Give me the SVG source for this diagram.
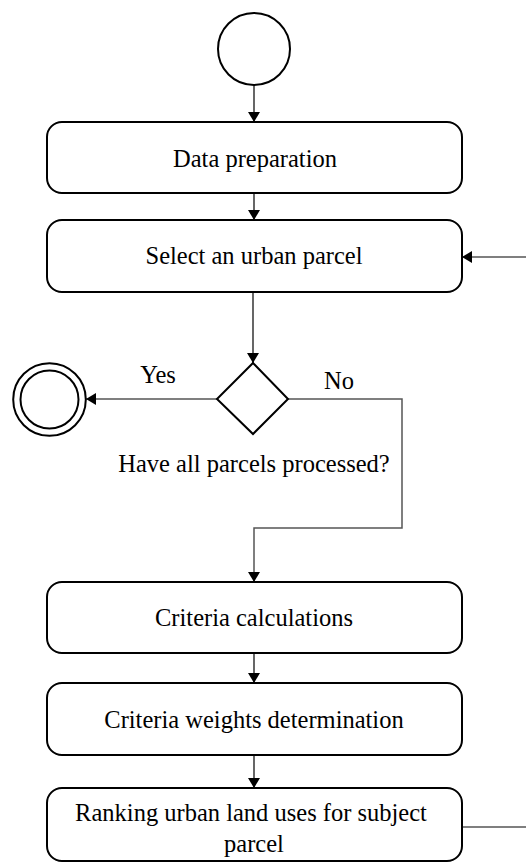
<svg xmlns="http://www.w3.org/2000/svg" width="526" height="863" viewBox="0 0 526 863">
<defs>
<marker id="ah" viewBox="0 0 10 12" refX="10" refY="6" markerWidth="10" markerHeight="12" markerUnits="userSpaceOnUse" orient="auto">
<path d="M0,0 L10,6 L0,12 Z" fill="#000"/>
</marker>
<style>
.box{fill:#fff;stroke:#000;stroke-width:2}
.t{font-family:"Liberation Serif","Times New Roman",serif;font-size:24.5px;fill:#000;text-anchor:middle}
.c{fill:none;stroke:#000;stroke-width:1.2}
.g{fill:none;stroke:#555;stroke-width:1.5}
</style>
</defs>
<rect width="526" height="863" fill="#fff"/>
<g id="connectors">
<line class="c" x1="254" y1="85" x2="254" y2="122" marker-end="url(#ah)"/>
<line class="c" x1="254" y1="193" x2="254" y2="220" marker-end="url(#ah)"/>
<line class="c" x1="253" y1="292" x2="253" y2="363" marker-end="url(#ah)"/>
<line class="c" x1="217" y1="399" x2="86" y2="399" marker-end="url(#ah)"/>
<polyline class="g" points="288,399 402,399 402,528 254,528 254,582" marker-end="url(#ah)"/>
<line class="c" x1="254" y1="653" x2="254" y2="683" marker-end="url(#ah)"/>
<line class="c" x1="254" y1="755" x2="254" y2="788" marker-end="url(#ah)"/>
<line class="g" x1="462" y1="827" x2="526" y2="827"/>
<line class="c" x1="526" y1="257" x2="462" y2="257" marker-end="url(#ah)"/>
<text class="t" x="158" y="383" font-size="23.5">Yes</text>
<text class="t" x="339" y="389" font-size="23.5">No</text>
</g>
<g id="start"><circle class="box" cx="254" cy="49" r="36"/></g>
<g id="data-prep">
<rect class="box" x="47" y="122" width="415" height="71" rx="15"/>
<text class="t" x="255" y="166.5">Data preparation</text>
</g>
<g id="select-parcel">
<rect class="box" x="47" y="220" width="415" height="72" rx="15"/>
<text class="t" x="254" y="264">Select an urban parcel</text>
</g>
<g id="decision">
<polygon class="box" points="253,363 288,399 253,434 217,399"/>
<text class="t" x="254" y="472">Have all parcels processed?</text>
</g>
<g id="end">
<circle class="box" cx="49.5" cy="399.5" r="36.3"/>
<circle class="box" cx="49.5" cy="399.5" r="29"/>
</g>
<g id="criteria-calc">
<rect class="box" x="47" y="582" width="415" height="71" rx="15"/>
<text class="t" x="254" y="626">Criteria calculations</text>
</g>
<g id="criteria-weights">
<rect class="box" x="47" y="683" width="415" height="72" rx="15"/>
<text class="t" x="254" y="727.5">Criteria weights determination</text>
</g>
<g id="ranking">
<rect class="box" x="47" y="788" width="415" height="73" rx="15"/>
<text class="t" x="251" y="821">Ranking urban land uses for subject</text>
<text class="t" x="254" y="852">parcel</text>
</g>
</svg>
